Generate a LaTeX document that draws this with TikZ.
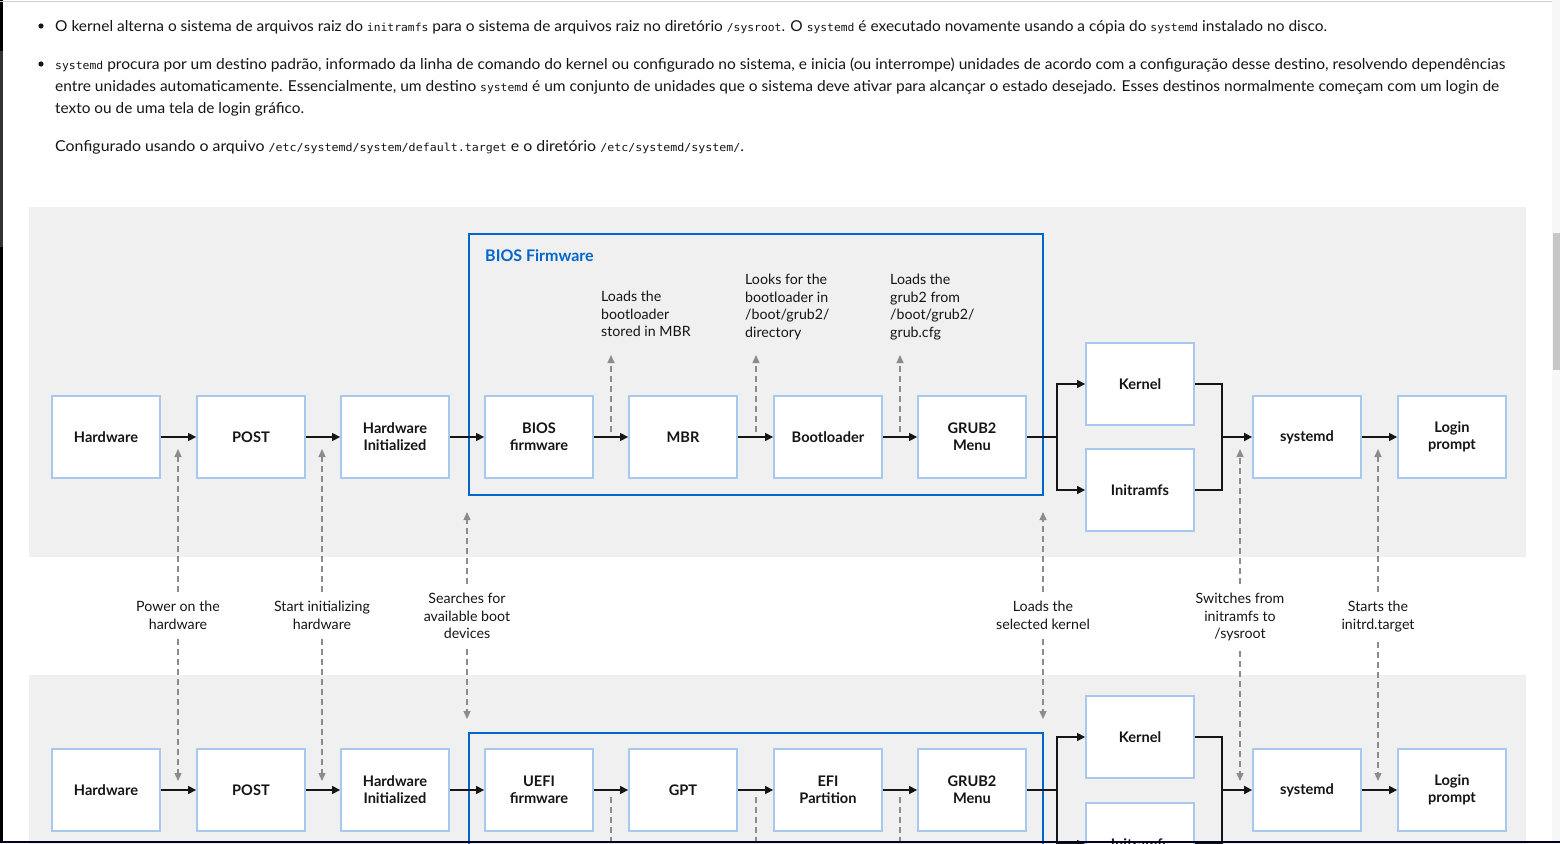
\documentclass[tikz,border=0pt]{standalone}
\usepackage{fontspec}
\setmainfont{Lato}
\setmonofont{DejaVu Sans Mono}
\usetikzlibrary{arrows.meta}
\definecolor{ink}{HTML}{151515}
\definecolor{panel}{HTML}{F0F0F0}
\definecolor{boxline}{HTML}{A8C8EE}
\definecolor{frameblue}{HTML}{0066CC}
\definecolor{dashgray}{HTML}{8A8D90}
\newcommand{\cd}[1]{{\ttfamily\fontsize{11}{13}\selectfont #1}}
\newcommand{\fitline}[2]{\resizebox{#1pt}{\height}{#2}}
\tikzset{
  bodytext/.style={anchor=base west, inner sep=0pt, text=ink, font=\fontsize{15}{22}\selectfont},
  stepbox/.style={draw=boxline, line width=1.8pt, fill=white, minimum width=108pt, minimum height=82pt,
     inner sep=0pt, align=center, text=ink, font=\fontsize{14.6}{17}\selectfont\bfseries},
  arr/.style={draw=ink, line width=1.4pt, -{Triangle[length=8pt,width=8pt]}},
  thickln/.style={draw=ink, line width=1.9pt},
  darr/.style={draw=dashgray, line width=1.2pt, dash pattern=on 6pt off 4pt, -{Triangle[length=8pt,width=7pt]}},
  dln/.style={draw=dashgray, line width=1.2pt, dash pattern=on 6pt off 4pt},
  note/.style={inner sep=0pt, text=ink, font=\fontsize{14.2}{17.5}\selectfont},
  frame/.style={draw=frameblue, line width=2pt},
}
\begin{document}
\begin{tikzpicture}[x=1pt,y=-1pt]
\useasboundingbox (0,0) rectangle (1560,843);
\clip (0,0) rectangle (1560,843);
\fill[white] (0,0) rectangle (1560,843);
% page chrome
\fill[black] (0,0) rectangle (2.5,843);
\fill[black!80] (0,51) rectangle (2.5,247);
\draw[black!18, line width=1pt] (0,1.5) -- (1553,1.5);
\fill[black!3] (1552,0) rectangle (1560,843);
\fill[black!22] (1553,233) rectangle (1560,370);
% body text
\fill[ink] (41,26) circle (2.6);
\fill[ink] (41,64) circle (2.6);
\node[bodytext] (t1) at (55,31) {\fitline{1272}{O kernel alterna o sistema de arquivos raiz do \cd{initramfs} para o sistema de arquivos raiz no diretório \cd{/sysroot}. O \cd{systemd} é executado novamente usando a cópia do \cd{systemd} instalado no disco.}};
\node[bodytext] (t2) at (55,69) {\fitline{1450}{\cd{systemd} procura por um destino padrão, informado da linha de comando do kernel ou configurado no sistema, e inicia (ou interrompe) unidades de acordo com a configuração desse destino, resolvendo dependências}};
\node[bodytext] (t3) at (55,91) {\fitline{1444}{entre unidades automaticamente. Essencialmente, um destino \cd{systemd} é um conjunto de unidades que o sistema deve ativar para alcançar o estado desejado. Esses destinos normalmente começam com um login de}};
\node[bodytext] (t4) at (55,113) {\fitline{249}{texto ou de uma tela de login gráfico.}};
\node[bodytext] (t5) at (55,151) {\fitline{689}{Configurado usando o arquivo \cd{/etc/systemd/system/default.target} e o diretório \cd{/etc/systemd/system/}.}};
% panels
\fill[panel] (29,207) rectangle (1526,557);
\fill[panel] (29,675) rectangle (1526,850);
% frames
\draw[frame] (469,234) rectangle (1043,495);
\draw[frame] (469,733) rectangle (1043,870);
\node[anchor=west, inner sep=0pt, text=frameblue, font=\fontsize{16}{19}\selectfont\bfseries] (biosl) at (485,256) {BIOS Firmware};
% ---- top row
\node[stepbox] (hw1) at (106,437) {Hardware};
\node[stepbox] (post1) at (251,437) {POST};
\node[stepbox] (hwi1) at (395,437) {Hardware\\Initialized};
\node[stepbox] (fw1) at (539,437) {BIOS\\firmware};
\node[stepbox] (mbr1) at (683,437) {MBR};
\node[stepbox] (bl1) at (828,437) {Bootloader};
\node[stepbox] (grub1) at (972,437) {GRUB2\\Menu};
\node[stepbox] (kern1) at (1140,384) {Kernel};
\node[stepbox] (init1) at (1140,490) {Initramfs};
\node[stepbox] (sysd1) at (1307,437) {systemd};
\node[stepbox] (login1) at (1452,437) {Login\\prompt};
\draw[arr] (hw1.east) -- (post1.west);
\draw[arr] (post1.east) -- (hwi1.west);
\draw[arr] (hwi1.east) -- (fw1.west);
\draw[arr] (fw1.east) -- (mbr1.west);
\draw[arr] (mbr1.east) -- (bl1.west);
\draw[arr] (bl1.east) -- (grub1.west);
\coordinate (br1) at (1057,437);
\coordinate (jn1) at (1222,437);
\draw[thickln] (grub1.east) -- (br1);
\draw[arr] (br1) |- (kern1.west);
\draw[arr] (br1) |- (init1.west);
\draw[thickln] (kern1.east) -| (jn1);
\draw[thickln] (init1.east) -| (jn1);
\draw[arr, line width=1.9pt] (jn1) -- (sysd1.west);
\draw[arr] (sysd1.east) -- (login1.west);
% notes inside frame
\node[note, anchor=north west, align=left] (n1) at (601,291) {Loads the\\bootloader\\stored in MBR};
\node[note, anchor=north west, align=left] (n2) at (745,274) {Looks for the\\bootloader in\\/boot/grub2/\\directory};
\node[note, anchor=north west, align=left] (n3) at (890,274) {Loads the\\grub2 from\\/boot/grub2/\\grub.cfg};
\coordinate (u1a) at (611,432); \coordinate (u1b) at (611,355);
\coordinate (u2a) at (756,432); \coordinate (u2b) at (756,355);
\coordinate (u3a) at (900,432); \coordinate (u3b) at (900,355);
\draw[darr] (u1a) -- (u1b);
\draw[darr] (u2a) -- (u2b);
\draw[darr] (u3a) -- (u3b);
% ---- middle labels
\node[note, anchor=north, align=center] (m1) at (178,601) {Power on the\\hardware};
\node[note, anchor=north, align=center] (m2) at (322,601) {Start initializing\\hardware};
\node[note, anchor=north, align=center] (m3) at (467,593) {Searches for\\available boot\\devices};
\node[note, anchor=north, align=center] (m4) at (1043,601) {Loads the\\selected kernel};
\node[note, anchor=north, align=center] (m5) at (1240,593) {Switches from\\initramfs to\\/sysroot};
\node[note, anchor=north, align=center] (m6) at (1378,601) {Starts the\\initrd.target};
\coordinate (m1u) at (178,449); \coordinate (m1d) at (178,781);
\coordinate (m2u) at (322,449); \coordinate (m2d) at (322,781);
\coordinate (m3u) at (467,512); \coordinate (m3d) at (467,719);
\coordinate (m4u) at (1043,512); \coordinate (m4d) at (1043,719);
\coordinate (m5u) at (1240,449); \coordinate (m5d) at (1240,781);
\coordinate (m6u) at (1378,449); \coordinate (m6d) at (1378,781);
\foreach \m in {m1,m2,m3,m4,m5,m6}{
  \draw[darr] ([yshift=9pt]\m.north) -- (\m u);
  \draw[darr] ([yshift=-10pt]\m.south) -- (\m d);
}
% ---- bottom row
\node[stepbox] (hw2) at (106,790) {Hardware};
\node[stepbox] (post2) at (251,790) {POST};
\node[stepbox] (hwi2) at (395,790) {Hardware\\Initialized};
\node[stepbox] (fw2) at (539,790) {UEFI\\firmware};
\node[stepbox] (gpt2) at (683,790) {GPT};
\node[stepbox] (efi2) at (828,790) {EFI\\Partition};
\node[stepbox] (grub2) at (972,790) {GRUB2\\Menu};
\node[stepbox] (kern2) at (1140,737) {Kernel};
\node[stepbox] (init2) at (1140,844) {Initramfs};
\node[stepbox] (sysd2) at (1307,790) {systemd};
\node[stepbox] (login2) at (1452,790) {Login\\prompt};
\draw[arr] (hw2.east) -- (post2.west);
\draw[arr] (post2.east) -- (hwi2.west);
\draw[arr] (hwi2.east) -- (fw2.west);
\draw[arr] (fw2.east) -- (gpt2.west);
\draw[arr] (gpt2.east) -- (efi2.west);
\draw[arr] (efi2.east) -- (grub2.west);
\coordinate (br2) at (1057,790);
\coordinate (jn2) at (1222,790);
\draw[thickln] (grub2.east) -- (br2);
\draw[arr] (br2) |- (kern2.west);
\draw[arr] (br2) |- (init2.west);
\draw[thickln] (kern2.east) -| (jn2);
\draw[thickln] (init2.east) -| (jn2);
\draw[arr, line width=1.9pt] (jn2) -- (sysd2.west);
\draw[arr] (sysd2.east) -- (login2.west);
\coordinate (d1a) at (611,797); \coordinate (d1b) at (611,860);
\coordinate (d2a) at (756,797); \coordinate (d2b) at (756,860);
\coordinate (d3a) at (900,797); \coordinate (d3b) at (900,860);
\draw[dln] (d1a) -- (d1b);
\draw[dln] (d2a) -- (d2b);
\draw[dln] (d3a) -- (d3b);
% bottom edge
\fill[black!80!blue!60!black] (0,841) rectangle (1560,843);
\end{tikzpicture}
\end{document}
